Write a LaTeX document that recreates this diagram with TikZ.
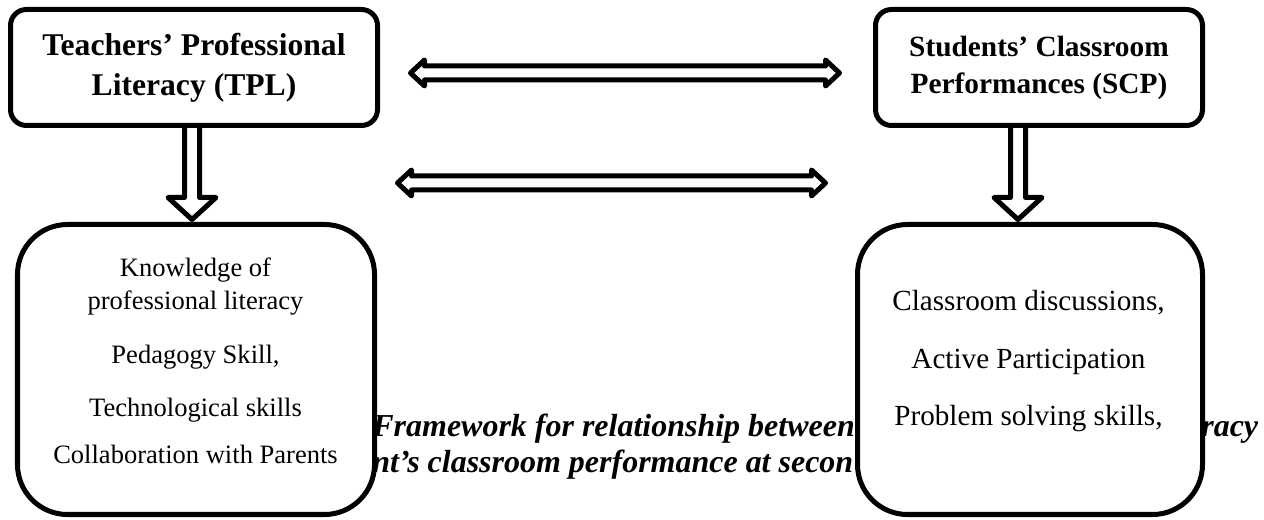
\documentclass[tikz,border=0pt]{standalone}
\usepackage{fontspec}
\setmainfont{Liberation Serif}
\usetikzlibrary{calc}
\tikzset{
  head box/.style={
    rectangle, rounded corners=0.32cm, draw=black, line width=0.1cm,
    fill=white, minimum height=2.32cm, align=center, inner sep=0pt
  },
  list box/.style={
    rectangle, rounded corners=1cm, draw=black, line width=0.1cm,
    fill=white, minimum height=5.8cm, inner sep=0pt
  },
  list text/.style={
    align=center, inner sep=0pt, anchor=north
  },
  cap text/.style={
    anchor=base west, inner sep=0pt,
    font=\fontsize{18.2}{20}\selectfont\bfseries\itshape
  },
  arrow frame/.style={shift={(\tikztostart)}, rotate=\n1},
  fat arrow/.style={draw=black, line width=0.1cm, line join=round},
  two way/.style={fat arrow, to path={
    let \p1=($(\tikztotarget)-(\tikztostart)$),
        \n1={atan2(\y1,\x1)}, \n2={veclen(\x1,\y1)} in
    ([arrow frame]0cm,0cm) -- ([arrow frame]0.28cm,0.26cm)
    -- ([arrow frame]0.28cm,0.14cm) -- ([arrow frame]{\n2-0.28cm},0.14cm)
    -- ([arrow frame]{\n2-0.28cm},0.26cm) -- ([arrow frame]\n2,0cm)
    -- ([arrow frame]{\n2-0.28cm},-0.26cm) -- ([arrow frame]{\n2-0.28cm},-0.14cm)
    -- ([arrow frame]0.28cm,-0.14cm) -- ([arrow frame]0.28cm,-0.26cm) -- cycle
  }},
  one way/.style={fat arrow, to path={
    let \p1=($(\tikztotarget)-(\tikztostart)$),
        \n1={atan2(\y1,\x1)}, \n2={veclen(\x1,\y1)} in
    ([arrow frame]0cm,0.15cm) -- ([arrow frame]{\n2-0.44cm},0.15cm)
    -- ([arrow frame]{\n2-0.44cm},0.48cm) -- ([arrow frame]\n2,0cm)
    -- ([arrow frame]{\n2-0.44cm},-0.48cm) -- ([arrow frame]{\n2-0.44cm},-0.15cm)
    -- ([arrow frame]0cm,-0.15cm)
  }}
}

\begin{document}
\begin{tikzpicture}
\useasboundingbox (0,0) rectangle (25.28,-10.4);

% ====== caption, partly hidden by the boxes ======
\node[cap text] (capa) at (7.44,-8.74) {Framework for relationship between};
\node[cap text] (capb) at (7.44,-9.46) {nt's classroom performance at secon};
\node[cap text] (capc) at (24.02,-8.74) {racy};

% ====== top boxes ======
\node[head box, minimum width=7.34cm, font=\fontsize{18}{22.8}\selectfont\bfseries]
  (tpl) at (3.88,-1.35) {Teachers' Professional\\Literacy (TPL)};
\node[head box, minimum width=6.54cm, font=\fontsize{16.7}{21}\selectfont\bfseries]
  (scp) at (20.78,-1.35) {Students' Classroom\\Performances (SCP)};

% ====== bottom boxes ======
\node[list box, minimum width=7.14cm] (tplbox) at (3.92,-7.39) {};
\node[list box, minimum width=6.9cm] (scpbox) at (20.6,-7.39) {};

% -- items --
\node[list text, font=\fontsize{15.1}{18.8}\selectfont] (tplitems) at (3.91,-5.14)
  {Knowledge of\\professional literacy\\[11.9pt]Pedagogy Skill,\\[11.4pt]%
   Technological skills\\[7.9pt]Collaboration with Parents};
\node[list text, font=\fontsize{16.6}{20}\selectfont] (scpitems) at (20.57,-5.8)
  {Classroom discussions,\\[13pt]Active Participation\\[12.4pt]Problem solving skills,};

% ====== arrows ======
\coordinate (tplout) at ($(tpl.south)+(-0.04,0.05)$);
\coordinate (tplin) at ($(tplout |- tplbox.north)+(0,0.05)$);
\coordinate (scpout) at ($(scp.south)+(-0.42,0.05)$);
\coordinate (scpin) at ($(scpout |- scpbox.north)+(0,0.05)$);
\draw[one way] (tplout) to (tplin);
\draw[one way] (scpout) to (scpin);

\coordinate (linkal) at (8.21,-1.46);
\coordinate (linkar) at (16.79,-1.46);
\coordinate (linkbl) at (7.95,-3.66);
\coordinate (linkbr) at (16.51,-3.66);
\draw[two way] (linkal) to (linkar);
\draw[two way] (linkbl) to (linkbr);

\end{tikzpicture}
\end{document}
